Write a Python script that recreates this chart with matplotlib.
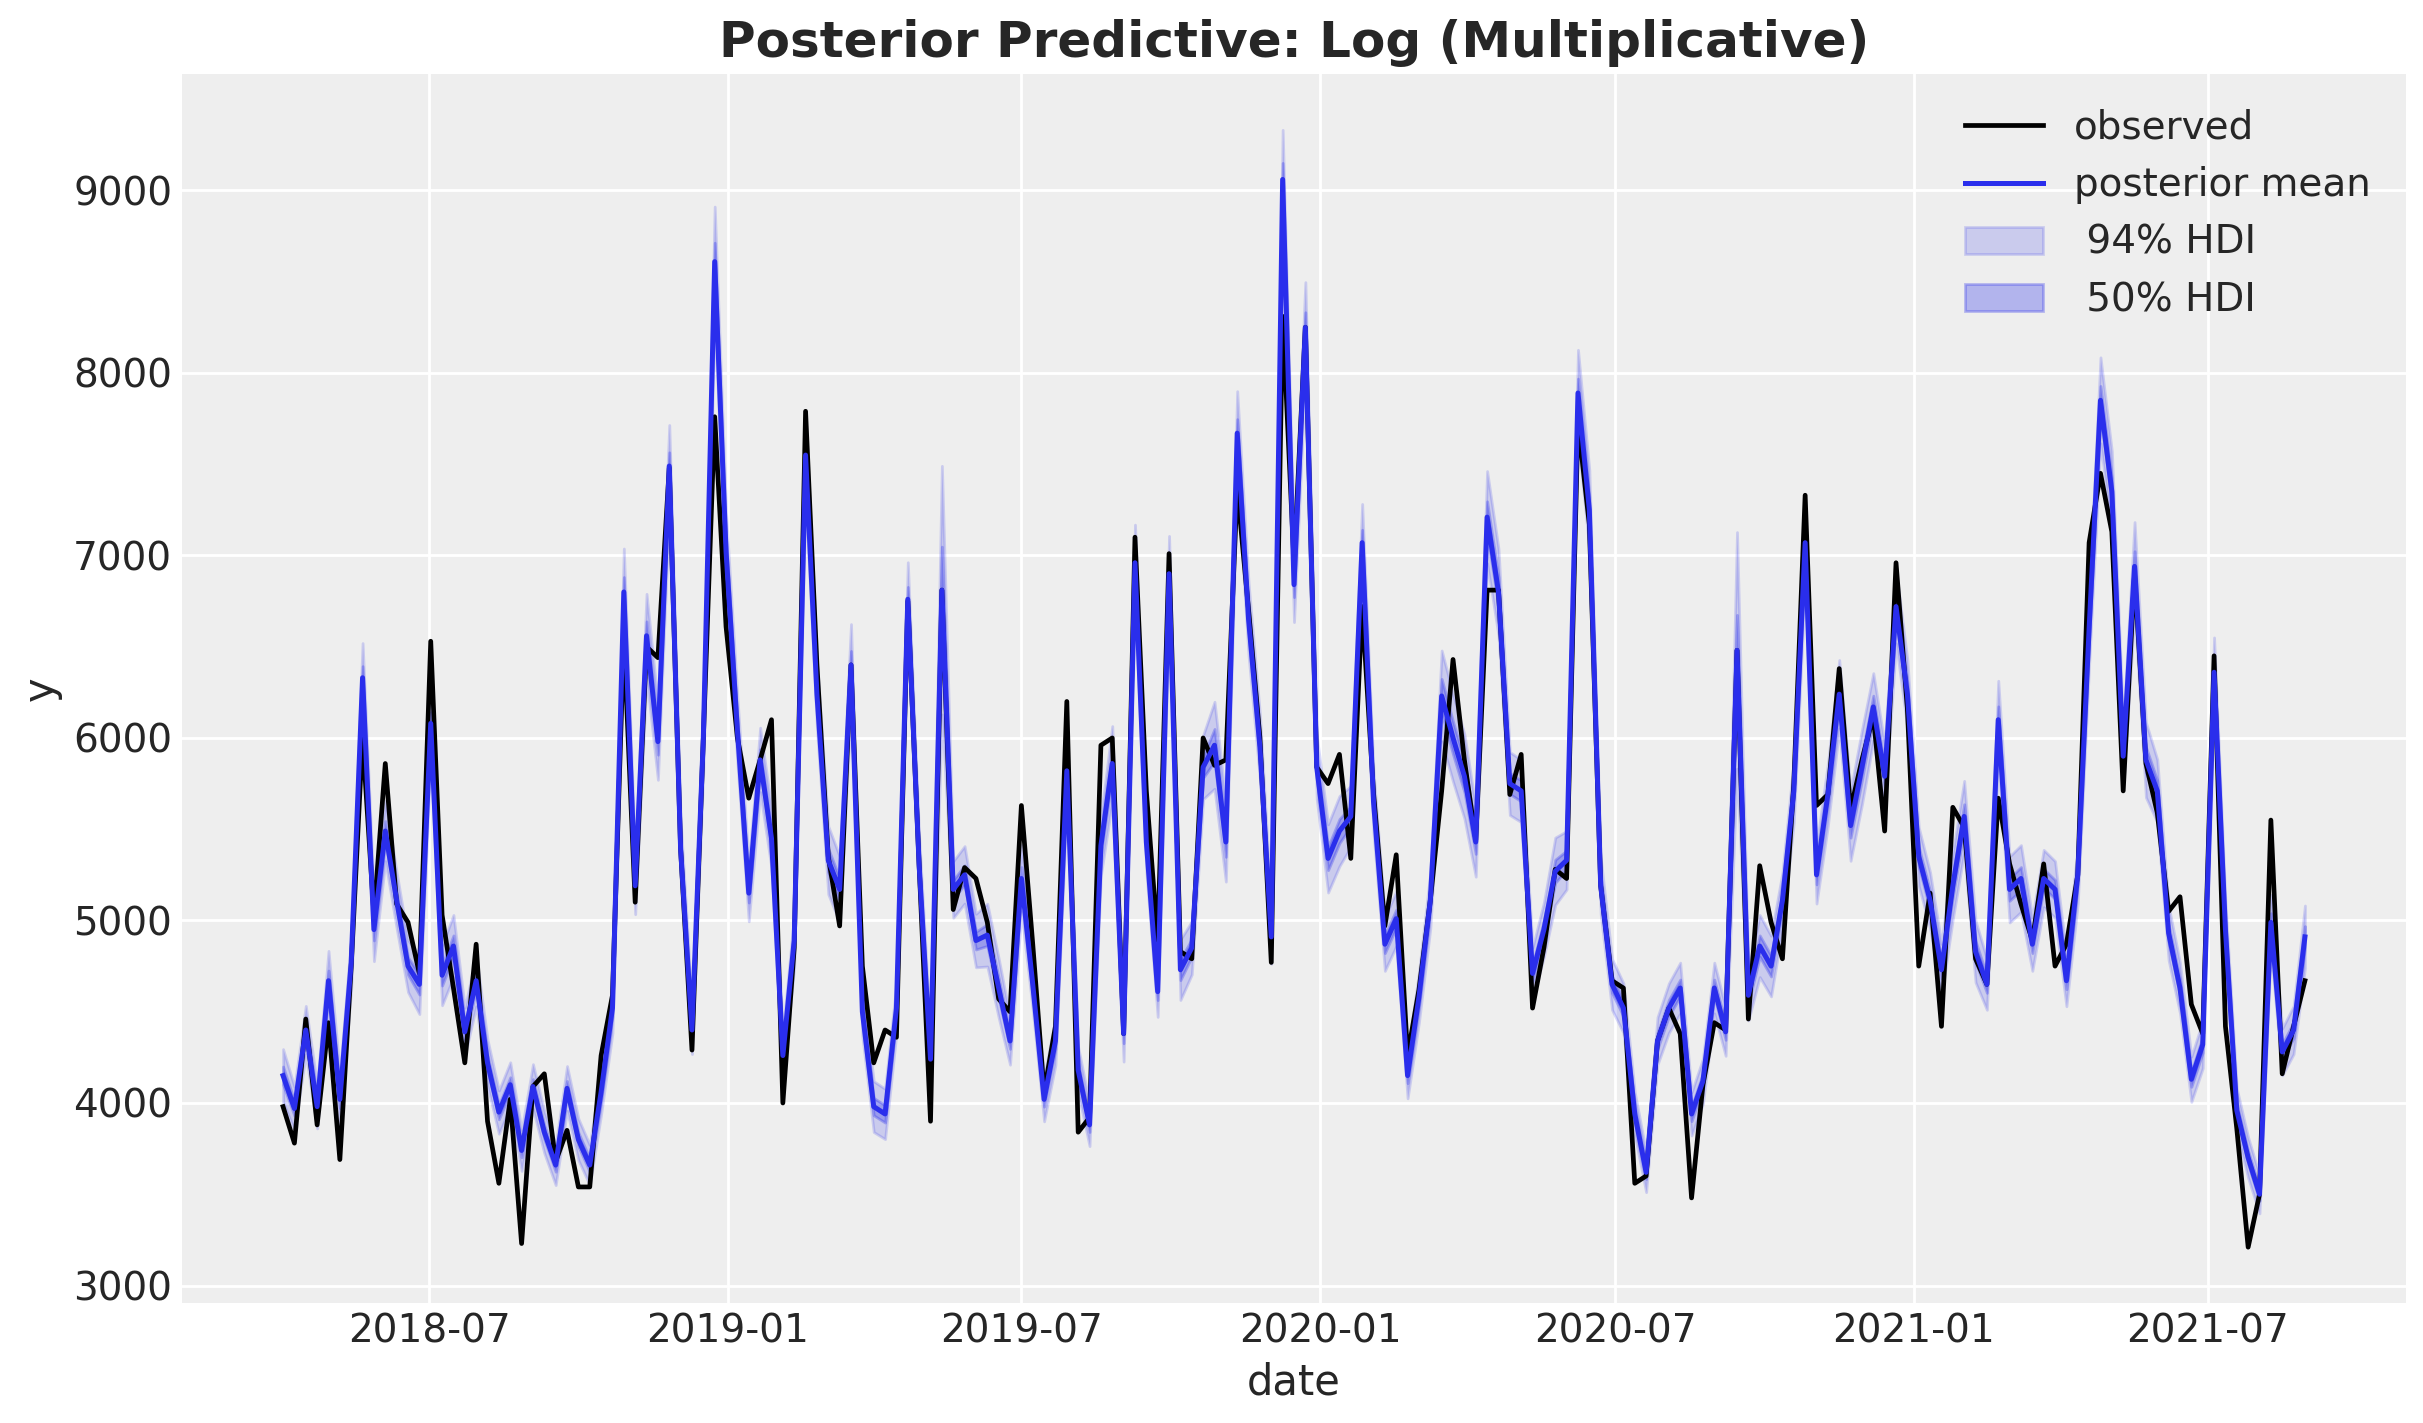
import numpy as np
import pandas as pd
import matplotlib
matplotlib.use("Agg")
import matplotlib.pyplot as plt
import matplotlib.dates as mdates
from matplotlib.lines import Line2D
from matplotlib.patches import Patch

# weekly dates (mondays)
start_date = "2018-04-02"
n_weeks = 179

observed = [
  3980, 3780, 4460, 3880, 4440, 3690, 4750, 6000, 5030, 5860,
  5090, 4990, 4710, 6530, 5030, 4630, 4220, 4870, 3900, 3560,
  4020, 3230, 4090, 4160, 3680, 3850, 3540, 3540, 4260, 4590,
  6550, 5100, 6500, 6440, 7480, 5390, 4290, 6000, 7760, 6610,
  6000, 5670, 5880, 6100, 4000, 4850, 7790, 6400, 5350, 4970,
  6400, 4750, 4220, 4400, 4360, 6750, 5300, 3900, 6810, 5060,
  5290, 5230, 4990, 4570, 4500, 5630, 4870, 4060, 4420, 6200,
  3840, 3920, 5960, 6000, 4380, 7100, 5710, 4890, 7010, 4830,
  4790, 6000, 5850, 5880, 7370, 6700, 6000, 4770, 8310, 6960,
  8250, 5840, 5750, 5910, 5340, 6720, 5700, 4970, 5360, 4260,
  4620, 5110, 5710, 6430, 5880, 5440, 6810, 6810, 5690, 5910,
  4520, 4850, 5280, 5230, 7730, 7170, 5190, 4670, 4630, 3560,
  3600, 4340, 4520, 4380, 3480, 4100, 4440, 4400, 6480, 4460,
  5300, 4990, 4790, 5750, 7330, 5630, 5690, 6380, 5610, 5880,
  6120, 5490, 6960, 6160, 4750, 5150, 4420, 5620, 5510, 4790,
  4650, 5670, 5310, 5090, 4890, 5310, 4750, 4870, 5250, 7070,
  7450, 7130, 5710, 6900, 5860, 5590, 5050, 5130, 4540, 4380,
  6450, 4420, 3860, 3210, 3500, 5550, 4160, 4420, 4670,
]

posterior_mean = [
  4150, 3970, 4400, 3980, 4670, 4020, 4770, 6330, 4950, 5490,
  5110, 4750, 4650, 6080, 4700, 4860, 4390, 4670, 4220, 3950,
  4100, 3740, 4090, 3840, 3660, 4080, 3800, 3660, 4060, 4520,
  6800, 5190, 6560, 5980, 7490, 5390, 4400, 6000, 8610, 7020,
  6040, 5150, 5880, 5450, 4260, 4890, 7550, 6240, 5330, 5170,
  6400, 4500, 3980, 3940, 4520, 6760, 5300, 4240, 6810, 5170,
  5250, 4890, 4920, 4630, 4340, 5230, 4650, 4020, 4340, 5820,
  4180, 3880, 5410, 5860, 4380, 6960, 5430, 4610, 6900, 4730,
  4850, 5840, 5960, 5430, 7670, 6650, 5950, 4910, 9060, 6840,
  8250, 5840, 5340, 5490, 5570, 7070, 5650, 4870, 5010, 4150,
  4580, 5110, 6230, 6000, 5790, 5430, 7210, 6800, 5750, 5710,
  4710, 4950, 5270, 5330, 7890, 7250, 5190, 4650, 4520, 3940,
  3620, 4340, 4520, 4630, 3940, 4120, 4630, 4390, 6480, 4590,
  4860, 4750, 5110, 5710, 7070, 5250, 5690, 6240, 5520, 5840,
  6170, 5790, 6720, 6240, 5350, 5110, 4730, 5190, 5570, 4830,
  4650, 6100, 5170, 5230, 4870, 5230, 5170, 4670, 5250, 6600,
  7850, 7350, 5900, 6940, 5880, 5710, 4930, 4630, 4130, 4320,
  6360, 4950, 3960, 3700, 3500, 4990, 4280, 4400, 4910,
]

# half width of the hdi bands, in percent of the posterior mean
hdi94_pct = [
  3.5, 3, 3, 3, 3.5, 3.5, 3, 3, 3.5, 3, 3, 3, 3.5, 3, 3.5, 3.5, 3, 3, 3, 3,
  3, 3, 3, 3, 3, 3, 3, 3, 3, 3, 3.5, 3, 3.5, 3.5, 3, 3, 3, 3, 3.5, 3,
  3, 3, 3, 3, 3, 3, 3, 3, 3.5, 3.5, 3.5, 3, 3.5, 3.5, 3, 3, 3, 3, 10, 3,
  3, 3, 3.5, 3.5, 3, 3.5, 3, 3, 3, 3, 3, 3, 3, 3.5, 3.5, 3, 3, 3, 3, 3.5,
  3, 3, 4, 4, 3, 3, 3, 3, 3, 3, 3, 3, 3.5, 3.5, 3, 3, 3, 3, 3, 3,
  3, 3, 4, 4, 4, 3.5, 3.5, 3.5, 3, 3, 3, 3, 3.5, 3, 3, 3, 3, 3, 3, 3,
  3, 3, 3, 3, 3, 3, 3, 3, 10, 3, 3.5, 3.5, 3, 3, 3, 3, 3, 3, 3.5, 3.5,
  3, 3, 3, 3, 3, 3, 3, 3.5, 3.5, 3.5, 3, 3.5, 3.5, 3.5, 3, 3, 3, 3, 3, 3,
  3, 3, 3, 3.5, 3.5, 3, 3, 3, 3, 3, 3, 3, 3, 3, 3, 3, 3, 3, 3.5,
]
hdi50_pct = [
  1.2, 1, 1, 1, 1.2, 1.2, 1, 1, 1.2, 1, 1, 1, 1.2, 1, 1.2, 1.2, 1, 1, 1, 1,
  1, 1, 1, 1, 1, 1, 1, 1, 1, 1, 1.2, 1, 1.2, 1.2, 1, 1, 1, 1, 1.2, 1,
  1, 1, 1, 1, 1, 1, 1, 1, 1.2, 1.2, 1.2, 1, 1.2, 1.2, 1, 1, 1, 1, 3.5, 1,
  1, 1, 1.2, 1.2, 1, 1.2, 1, 1, 1, 1, 1, 1, 1, 1.2, 1.2, 1, 1, 1, 1, 1.2,
  1, 1, 1.5, 1.5, 1, 1, 1, 1, 1, 1, 1, 1, 1.2, 1.2, 1, 1, 1, 1, 1, 1,
  1, 1, 1.5, 1.5, 1.5, 1.2, 1.2, 1.2, 1, 1, 1, 1, 1.2, 1, 1, 1, 1, 1, 1, 1,
  1, 1, 1, 1, 1, 1, 1, 1, 3, 1, 1.2, 1.2, 1, 1, 1, 1, 1, 1, 1.2, 1.2,
  1, 1, 1, 1, 1, 1, 1, 1.2, 1.2, 1.2, 1, 1.2, 1.2, 1.2, 1, 1, 1, 1, 1, 1,
  1, 1, 1, 1.2, 1.2, 1, 1, 1, 1, 1, 1, 1, 1, 1, 1, 1, 1, 1, 1.2,
]

blue = "#2a2eec"
text_c = "#262626"

plt.rcParams.update({
  "font.family": "DejaVu Sans",
  "text.color": text_c,
  "axes.labelcolor": text_c,
  "xtick.color": text_c,
  "ytick.color": text_c,
  "axes.facecolor": "#eeeeee",
  "axes.edgecolor": "white",
  "axes.linewidth": 0,
  "grid.color": "white",
  "grid.linewidth": 1.0,
  "xtick.major.size": 0,
  "ytick.major.size": 0,
  "xtick.labelsize": 14,
  "ytick.labelsize": 14,
  "axes.labelsize": 15,
})

dates = pd.date_range(start_date, periods=n_weeks, freq="7D")
obs = np.array(observed, dtype=float)
mean = np.array(posterior_mean, dtype=float)
w94 = mean * np.array(hdi94_pct) / 100
w50 = mean * np.array(hdi50_pct) / 100

fig = plt.figure(figsize=(2423 / 200, 1423 / 200), dpi=200)
ax = fig.add_subplot(111)
fig.subplots_adjust(left=0.0751, right=0.993, bottom=0.0843, top=0.948)
ax.grid(True)
ax.set_axisbelow(True)

ax.plot(dates, obs, color="black", lw=1.7, label="observed")
ax.fill_between(dates, mean - w94, mean + w94, color=blue, alpha=0.18, lw=1.0)
ax.fill_between(dates, mean - w50, mean + w50, color=blue, alpha=0.3, lw=1.0)
ax.plot(dates, mean, color=blue, lw=1.8, label="posterior mean")

ax.xaxis.set_major_locator(mdates.MonthLocator(bymonth=[1, 7]))
ax.xaxis.set_major_formatter(mdates.DateFormatter("%Y-%m"))

handles = [
  Line2D([], [], color="black", lw=1.7),
  Line2D([], [], color=blue, lw=1.8),
  Patch(facecolor=blue, edgecolor=blue, alpha=0.18),
  Patch(facecolor=blue, edgecolor=blue, alpha=0.3),
]
labels = ["observed", "posterior mean", " 94% HDI", " 50% HDI"]
ax.legend(handles, labels, loc="upper right", frameon=False, fontsize=14)

ax.set_xlabel("date")
ax.set_ylabel("y")
ax.set_title("Posterior Predictive: Log (Multiplicative)", fontsize=18,
             fontweight="bold")

fig.savefig("out.png", dpi=200)
